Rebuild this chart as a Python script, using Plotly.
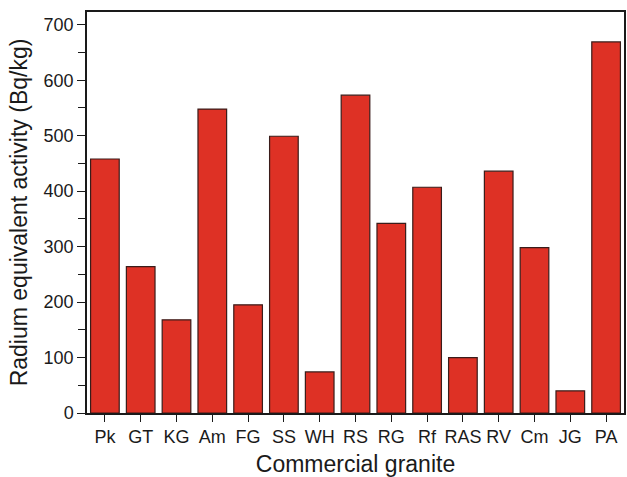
import plotly.graph_objects as go

categories = ["Pk", "GT", "KG", "Am", "FG", "SS", "WH", "RS", "RG", "Rf", "RAS", "RV", "Cm", "JG", "PA"]
values = [458, 264, 168, 548, 195, 499, 74, 573, 342, 407, 100, 436, 298, 40, 669]
y_ticks = [0, 100, 200, 300, 400, 500, 600, 700]
y_minor = [50, 150, 250, 350, 450, 550, 650]

font = "Liberation Sans, Arial, sans-serif"

fig = go.Figure(go.Bar(
    x=list(range(len(categories))),
    y=values,
    width=0.8,
    marker=dict(color="#de3125", line=dict(color="#3a1c1a", width=1.2)),
))

fig.update_layout(
    width=627, height=477,
    margin=dict(l=87, r=1, t=12, b=64),
    plot_bgcolor="white", paper_bgcolor="white",
    showlegend=False,
    font=dict(family=font, color="#1a1a1a"),
)
fig.update_xaxes(
    range=[-0.5, 14.5],
    tickmode="array", tickvals=list(range(len(categories))), ticktext=categories,
    ticks="outside", ticklen=7, tickwidth=1.2, tickcolor="#1a1a1a",
    showline=True, linecolor="#1a1a1a", linewidth=1.5, mirror=True,
    showgrid=False, zeroline=False,
    tickfont=dict(size=18),
    title=dict(text="Commercial granite", font=dict(size=23), standoff=11),
)
fig.update_yaxes(
    range=[0, 723],
    tickmode="array", tickvals=y_ticks,
    ticks="outside", ticklen=8, tickwidth=1.2, tickcolor="#1a1a1a",
    minor=dict(tickmode="array", tickvals=y_minor, ticks="outside", ticklen=7, tickwidth=1.2, tickcolor="#1a1a1a"),
    showline=True, linecolor="#1a1a1a", linewidth=1.5, mirror=True,
    showgrid=False, zeroline=False,
    tickfont=dict(size=18),
    title=dict(text="Radium equivalent activity (Bq/kg)", font=dict(size=23), standoff=10),
)

fig.write_html(
    "out.html",
    config={"displayModeBar": False},
    post_script="document.body.style.margin='0';document.body.style.overflow='hidden';",
)
